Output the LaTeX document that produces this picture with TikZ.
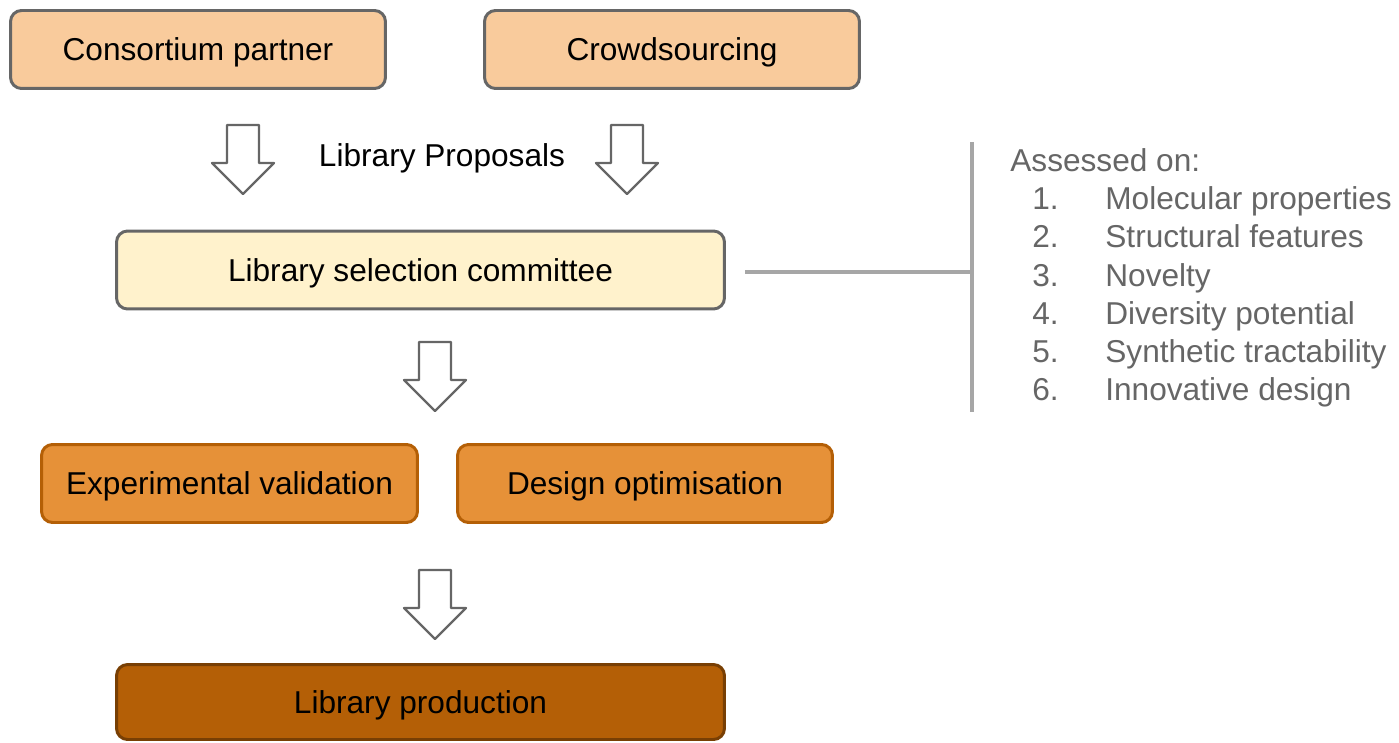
\documentclass[tikz,border=0pt]{standalone}
\usepackage{fontspec}
\setmainfont{Liberation Sans}
\definecolor{cPeach}{HTML}{F9CB9C}
\definecolor{cCream}{HTML}{FFF2CC}
\definecolor{cOrange}{HTML}{E69138}
\definecolor{cRust}{HTML}{B45F06}
\definecolor{cBrown}{HTML}{783F04}
\definecolor{cGrey}{HTML}{666666}
\definecolor{cLine}{HTML}{A6A6A6}
\usetikzlibrary{positioning,calc}

\tikzset{
  stage/.style={draw=cGrey, line width=1.7pt, rounded corners=0.22cm, inner sep=0pt, minimum height=1.56cm, text height=12.6pt, text depth=0pt},
  hollow/.style={draw=cGrey, line width=1.3pt, fill=white, line join=round},
  crit/.style={anchor=base west, inner sep=0pt, text=cGrey}
}
% hollow down arrow: centre x, top y (pixel units)
\newcommand{\downblock}[2]{\draw[hollow] (#1,#2) ++(-16,0) -- ++(32,0) -- ++(0,38) -- ++(15,0) -- ++(-31,31) -- ++(-31,-31) -- ++(15,0) -- cycle;}

\begin{document}
\begin{tikzpicture}[x=0.02cm, y=-0.02cm, font=\fontsize{18}{22}\selectfont]
\useasboundingbox (0,0) rectangle (1399,743);
\node[stage, fill=cPeach, minimum width=7.5cm] (partner) at (198,49.5) {Consortium partner};
\node[stage, fill=cPeach, minimum width=7.5cm] (crowd) at (672,49.5) {Crowdsourcing};
\downblock{243}{125} \downblock{627}{125}
\node[anchor=base, inner sep=0pt] (proposals) at (442,167) {Library Proposals};
\node[stage, fill=cCream, minimum width=12.16cm] (select) at (420.5,270) {Library selection committee};
\downblock{435}{342}
\node[stage, draw=cRust, fill=cOrange, minimum width=7.52cm] (expval) at (229.5,483.5) {Experimental validation};
\node[stage, draw=cRust, fill=cOrange, minimum width=7.5cm] (design) at (645,483.5) {Design optimisation};
\downblock{435}{570}
\node[stage, draw=cBrown, fill=cRust, minimum width=12.16cm, minimum height=1.5cm] (prod) at (420.5,702) {Library production};
% criteria bracket
\coordinate (barTop) at (972,142);
\coordinate (barBot) at (972,412);
\draw[cLine, line width=2pt] (barTop) -- (barBot);
\draw[cLine, line width=2pt] ([xshift=0.38cm, yshift=-0.04cm]select.east) -- ([yshift=-0.04cm]select.east -| barTop);
\node[crit] (assessed) at (1010,172) {Assessed on:};
\foreach \i/\txt [count=\k] in {1/Molecular properties, 2/Structural features, 3/Novelty, 4/Diversity potential, 5/Synthetic tractability, 6/Innovative design}{
  \node[crit] (num\k) at (1032,172+38*\k) {\i.};
  \node[crit] (crit\k) at (1105,172+38*\k) {\txt};
}
\end{tikzpicture}
\end{document}
